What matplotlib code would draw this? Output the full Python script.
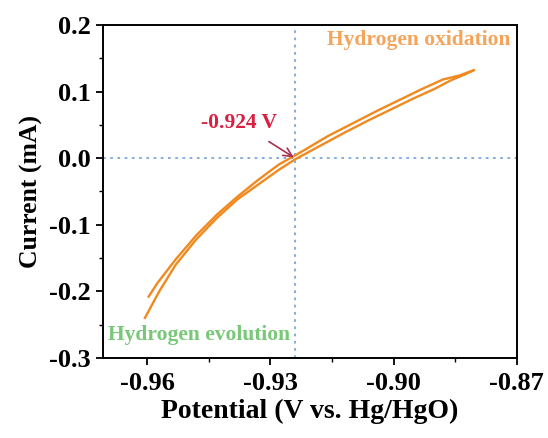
import numpy as np
import matplotlib.pyplot as plt
from matplotlib.ticker import MultipleLocator

# CV scan, forward (cathodic end -> anodic end) and reverse
fwd_x = [-0.9605, -0.957, -0.953, -0.948, -0.943, -0.938, -0.933, -0.928, -0.924,
         -0.918, -0.912, -0.906, -0.900, -0.895, -0.890, -0.886, -0.8825, -0.8805]
fwd_y = [-0.240, -0.200, -0.160, -0.122, -0.090, -0.062, -0.040, -0.018, -0.002,
         0.018, 0.038, 0.057, 0.075, 0.090, 0.104, 0.117, 0.126, 0.132]
rev_x = [-0.8805, -0.884, -0.888, -0.893, -0.898, -0.904, -0.910, -0.916, -0.922,
         -0.924, -0.928, -0.933, -0.938, -0.943, -0.948, -0.953, -0.9575, -0.9596]
rev_y = [0.132, 0.124, 0.118, 0.104, 0.089, 0.071, 0.052, 0.033, 0.011,
         0.004, -0.010, -0.033, -0.058, -0.085, -0.116, -0.152, -0.188, -0.208]

e_zero = -0.924

plt.rcParams['font.family'] = 'Liberation Serif'
plt.rcParams['font.weight'] = 'bold'

fig = plt.figure(figsize=(5.48, 4.38), dpi=100)
ax = fig.add_axes([0.188, 0.183, 0.755, 0.760])

ax.axvline(e_zero, color='#7aa7dc', ls=(0, (1.5, 2.5)), lw=1.3, zorder=1)
ax.axhline(0, color='#7aa7dc', ls=(0, (1.5, 2.5)), lw=1.3, zorder=1)

ax.plot(fwd_x, fwd_y, color='#f08a20', lw=1.7, zorder=3)
ax.plot(rev_x, rev_y, color='#f08a20', lw=1.7, zorder=3)

ax.set_xlim(-0.9707, -0.87)
ax.set_ylim(-0.3, 0.2)
ax.xaxis.set_minor_locator(MultipleLocator(0.015))
ax.yaxis.set_minor_locator(MultipleLocator(0.05))
ax.set_xticks([-0.96, -0.93, -0.90, -0.87])
ax.set_xticklabels(['-0.96', '-0.93', '-0.90', '-0.87'])
ax.set_yticks([-0.3, -0.2, -0.1, 0.0, 0.1, 0.2])
ax.set_yticklabels(['-0.3', '-0.2', '-0.1', '0.0', '0.1', '0.2'])
ax.tick_params(which='major', direction='out', length=5, width=1.3, labelsize=19)
ax.tick_params(axis='y', which='major', pad=4)
ax.tick_params(axis='x', which='major', pad=5)
ax.tick_params(which='minor', direction='out', length=3, width=1.0)
for s in ax.spines.values():
    s.set_linewidth(1.4)

ax.set_xlabel('Potential (V vs. Hg/HgO)', fontsize=20, fontweight='bold', labelpad=3)
ax.set_ylabel('Current (mA)', fontsize=18.5, fontweight='bold', labelpad=4)

ax.text(0.985, 0.955, 'Hydrogen oxidation', transform=ax.transAxes, ha='right', va='center',
        color='#f5a45c', fontsize=15.5, fontweight='bold')
ax.text(0.012, 0.07, 'Hydrogen evolution', transform=ax.transAxes, ha='left', va='center',
        color='#78c878', fontsize=15.5, fontweight='bold')
ax.annotate('-0.924 V', xy=(e_zero, 0.0), xytext=(-0.9375, 0.053),
            ha='center', va='center', color='#d82040', fontsize=15.5, fontweight='bold',
            arrowprops=dict(arrowstyle='->', color='#a83050', lw=1.2,
                            shrinkA=8, shrinkB=1))

plt.savefig('out.png')
